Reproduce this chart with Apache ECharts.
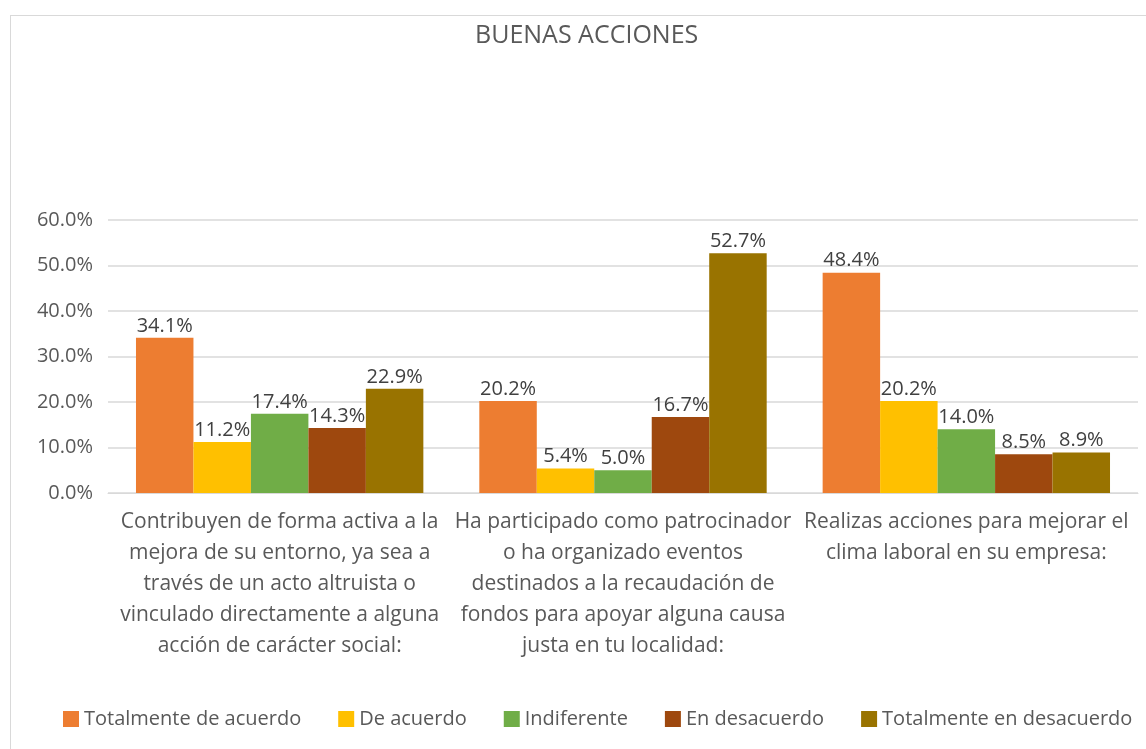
<!DOCTYPE html>
<html>
<head>
<meta charset="utf-8">
<script src="https://cdn.jsdelivr.net/npm/echarts@6/dist/echarts.min.js"></script>
<style>
  html, body { margin: 0; padding: 0; background: #fff; }
  #frame {
    position: absolute; left: 10px; top: 15px; width: 1200px; height: 800px;
    border-left: 1px solid #d9d9d9; border-top: 1px solid #d9d9d9;
  }
  #chart { position: absolute; left: 0; top: 0; width: 1146px; height: 749px; }
</style>
</head>
<body>
<div id="frame"></div>
<div id="chart"></div>
<script>
// datos del gráfico
const categories = [
  'Contribuyen de forma activa a la\nmejora de su entorno, ya sea a\ntravés de un acto altruista o\nvinculado directamente a alguna\nacción de carácter social:',
  'Ha participado como patrocinador\no ha organizado eventos\ndestinados a la recaudación de\nfondos para apoyar alguna causa\njusta en tu localidad:',
  'Realizas acciones para mejorar el\nclima laboral en su empresa:'
]
const seriesNames = ['Totalmente de acuerdo', 'De acuerdo', 'Indiferente', 'En desacuerdo', 'Totalmente en desacuerdo']
const totalmenteDeAcuerdo = [34.1, 20.2, 48.4]
const deAcuerdo = [11.2, 5.4, 20.2]
const indiferente = [17.4, 5.0, 14.0]
const enDesacuerdo = [14.3, 16.7, 8.5]
const totalmenteEnDesacuerdo = [22.9, 52.7, 8.9]
const yTicks = [0, 10, 20, 30, 40, 50, 60]

const colors = ['#ED7D31', '#FFC000', '#70AD47', '#9E480E', '#997300']
const values = [totalmenteDeAcuerdo, deAcuerdo, indiferente, enDesacuerdo, totalmenteEnDesacuerdo]
const FONT = '"Open Sans", "Noto Sans", sans-serif'

const chart = echarts.init(document.getElementById('chart'))
chart.setOption({
  textStyle: { fontFamily: FONT },
  title: {
    text: 'BUENAS ACCIONES',
    left: 470,
    top: 18,
    textStyle: { fontFamily: FONT, fontSize: 25, fontWeight: 'normal', color: '#595959' }
  },
  legend: {
    bottom: 15,
    left: 58,
    itemWidth: 16,
    itemHeight: 16,
    itemGap: 37,
    icon: 'rect',
    textStyle: { fontFamily: FONT, fontSize: 20, color: '#595959' },
    data: seriesNames
  },
  grid: { left: 108, right: 8, top: 220, bottom: 256 },
  xAxis: {
    type: 'category',
    data: categories,
    axisLine: { lineStyle: { color: '#d9d9d9' } },
    axisTick: { show: false },
    axisLabel: {
      interval: 0,
      margin: 14,
      fontFamily: FONT,
      fontSize: 21,
      lineHeight: 31,
      color: '#595959',
      align: 'center'
    }
  },
  yAxis: {
    type: 'value',
    min: yTicks[0],
    max: yTicks[yTicks.length - 1],
    interval: 10,
    axisLine: { show: false },
    axisTick: { show: false },
    splitLine: { lineStyle: { color: '#d9d9d9', width: 1.5 } },
    axisLabel: {
      margin: 15,
      fontFamily: FONT,
      fontSize: 20,
      color: '#595959',
      formatter: v => v.toFixed(1) + '%'
    }
  },
  series: seriesNames.map((name, i) => ({
    name: name,
    type: 'bar',
    data: values[i],
    barGap: '0%',
    barCategoryGap: '16.3%',
    itemStyle: { color: colors[i] },
    label: {
      show: true,
      position: 'top',
      distance: 2,
      fontFamily: FONT,
      fontSize: 20,
      color: '#404040',
      formatter: p => p.value.toFixed(1) + '%'
    }
  }))
})
</script>
</body>
</html>
